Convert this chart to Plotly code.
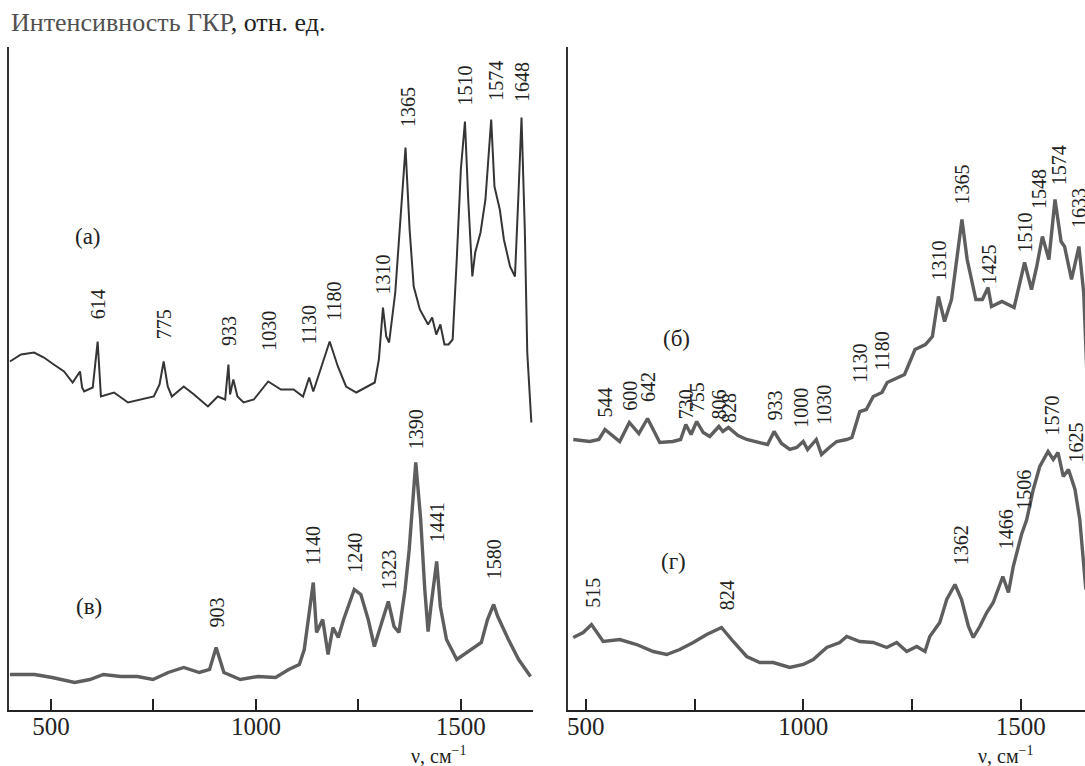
import plotly.graph_objects as go

# ---------------- data ----------------
# spectrum (a)  – wavenumber, cm^-1 / relative intensity (with stacking offset)
a_wn = [400, 427, 459, 483, 507, 532, 553, 571, 576, 581, 602, 614, 622, 654, 688, 720, 751, 765, 775, 785,
        795, 824, 849, 883, 907, 925, 933, 937, 945, 955, 970, 995, 1030, 1061, 1092, 1115, 1130, 1140, 1160,
        1180, 1200, 1220, 1245, 1270, 1290, 1300, 1310, 1318, 1325, 1340, 1355, 1365, 1375, 1385, 1400, 1420,
        1430, 1440, 1450, 1460, 1470, 1480, 1490, 1500, 1510, 1518, 1528, 1535, 1548, 1560, 1574, 1582, 1595,
        1605, 1620, 1632, 1640, 1648, 1656, 1662, 1672]
a_int = [348, 355, 357, 352, 345, 338, 327, 338, 322, 318, 322, 368, 313, 317, 307, 310, 313, 325, 348, 323,
         313, 323, 315, 303, 313, 310, 345, 315, 330, 313, 307, 310, 328, 320, 320, 313, 332, 318, 343,
         368, 343, 323, 317, 323, 327, 350, 402, 373, 367, 417, 510, 562, 480, 423, 400, 385,
         392, 375, 385, 365, 365, 370, 450, 540, 588, 510, 433, 457, 477, 510, 590, 523, 500,
         470, 443, 433, 510, 592, 480, 357, 287]

# spectrum (в)
v_wn = [400, 460, 503, 558, 595, 628, 671, 711, 749, 786, 824, 862, 887, 903, 922, 962, 1005, 1048, 1080,
        1106, 1118, 1131, 1140, 1148, 1163, 1176, 1188, 1201, 1214, 1240, 1256, 1274, 1289, 1307, 1323,
        1337, 1349, 1364, 1374, 1390, 1402, 1412, 1420, 1427, 1441, 1450, 1465, 1490, 1515, 1550, 1565,
        1580, 1590, 1616, 1641, 1670]
v_int = [35, 35, 32, 27, 30, 35, 33, 33, 30, 37, 42, 37, 40, 62, 37, 30, 33, 32, 40,
         45, 60, 103, 127, 77, 90, 55, 82, 72, 90, 120, 115, 90, 63, 87, 108,
         83, 77, 120, 160, 247, 190, 120, 78, 103, 148, 103, 70, 50, 57, 67, 90,
         105, 93, 70, 50, 33]

# spectrum (б)
b_wn = [471, 509, 530, 544, 578, 600, 622, 642, 670, 700, 718, 730, 742, 755, 770, 785, 806, 815, 828, 850,
        870, 900, 918, 933, 950, 969, 985, 1000, 1010, 1030, 1042, 1060, 1077, 1100, 1112, 1130, 1145, 1161,
        1181, 1193, 1209, 1233, 1257, 1281, 1297, 1311, 1325, 1341, 1353, 1365, 1377, 1397, 1412, 1425,
        1433, 1457, 1485, 1493, 1509, 1525, 1537, 1550, 1565, 1579, 1593, 1601, 1617, 1634, 1645, 1652]
b_int = [270, 268, 270, 280, 268, 287, 276, 291, 267, 268, 270, 285, 275, 288, 277, 273, 283, 278, 282, 274,
         270, 267, 265, 278, 266, 260, 262, 268, 260, 270, 255, 262, 268, 270, 272, 298, 300, 313,
         317, 327, 330, 335, 360, 365, 373, 413, 388, 410, 450, 490, 450, 410, 410, 422,
         403, 408, 402, 417, 447, 420, 443, 473, 450, 510, 468, 463, 430, 463, 417, 340]

# spectrum (г)
g_wn = [471, 494, 513, 540, 578, 617, 655, 686, 716, 747, 778, 812, 839, 870, 900, 931, 969, 1000, 1023,
        1054, 1084, 1100, 1130, 1161, 1192, 1215, 1238, 1261, 1280, 1291, 1314, 1330, 1349, 1364, 1380,
        1391, 1406, 1422, 1437, 1459, 1472, 1483, 1502, 1514, 1529, 1544, 1563, 1575, 1586, 1598, 1610,
        1625, 1636, 1650]
g_int = [72, 77, 85, 68, 70, 65, 58, 55, 60, 67, 75, 82, 68, 53, 47, 47, 42, 45, 50,
         62, 67, 73, 68, 67, 62, 67, 58, 63, 58, 73, 87, 110, 125, 110, 83,
         72, 83, 97, 107, 133, 117, 143, 175, 190, 220, 243, 258, 250, 257, 233, 240,
         220, 190, 120]

# peak labels
a_peaks = [614, 775, 933, 1030, 1130, 1180, 1310, 1365, 1510, 1574, 1648]
v_peaks = [903, 1140, 1240, 1323, 1390, 1441, 1580]
b_peaks = [544, 600, 642, 730, 755, 806, 828, 933, 1000, 1030, 1130, 1180, 1310, 1365, 1425, 1510, 1548,
           1574, 1633]
g_peaks = [515, 824, 1362, 1466, 1506, 1570, 1625]

tick_vals = [500, 750, 1000, 1250, 1500]
tick_text = ["500", "", "1000", "", "1500"]

# ---------------- layout helpers (positions) ----------------
a_lab_y = [388, 368, 362, 357, 363, 387, 413, 580, 602, 607, 605]
v_lab_y = [80, 142, 135, 118, 258, 165, 128]
b_lab_y = [290, 297, 305, 288, 295, 288, 285, 287, 280, 283, 325, 337, 427, 503, 423, 455, 498, 522, 480]
g_lab_y = [100, 97, 142, 158, 198, 272, 245]
# small pixel nudges where the printed labels sit beside their peaks
b_lab_dx = {1000: -3, 1030: 7, 1548: -3, 1574: 6}
a_lab_dx = {1180: 4, 1574: 4, 1365: 2}

SERIF = "Liberation Serif"
INK = "#222222"
W, H = 1085, 766

fig = go.Figure()
fig.add_trace(go.Scatter(x=a_wn, y=a_int, mode="lines", line=dict(color="#353535", width=2),
                         xaxis="x", yaxis="y", hoverinfo="skip"))
fig.add_trace(go.Scatter(x=v_wn, y=v_int, mode="lines", line=dict(color="#5e5e5e", width=3.4),
                         xaxis="x", yaxis="y", hoverinfo="skip"))
fig.add_trace(go.Scatter(x=b_wn, y=b_int, mode="lines", line=dict(color="#5e5e5e", width=3.4),
                         xaxis="x2", yaxis="y2", hoverinfo="skip"))
fig.add_trace(go.Scatter(x=g_wn, y=g_int, mode="lines", line=dict(color="#5e5e5e", width=3.4),
                         xaxis="x2", yaxis="y2", hoverinfo="skip"))

ydom = [1 - 709.5 / H, 1 - 47 / H]
xcommon = dict(showgrid=False, zeroline=False, showline=True, linecolor=INK, linewidth=1.5,
               ticks="inside", ticklen=11, tickwidth=1.5, tickcolor=INK,
               tickvals=tick_vals, ticktext=tick_text, ticklabelstandoff=-6,
               tickfont=dict(family=SERIF, size=25, color=INK))
ycommon = dict(showgrid=False, zeroline=False, showline=True, linecolor="#333333", linewidth=1.5,
               showticklabels=False, ticks="", range=[0, 662.5], domain=ydom)

fig.update_layout(
    width=W, height=H, margin=dict(l=0, r=0, t=0, b=0),
    paper_bgcolor="white", plot_bgcolor="white", showlegend=False,
    font=dict(family=SERIF, color=INK),
    xaxis=dict(domain=[8.7 / W, 533 / W], range=[397, 1676], anchor="y", **xcommon),
    yaxis=dict(anchor="x", **ycommon),
    xaxis2=dict(domain=[568 / W, 1.0], range=[459, 1648], anchor="y2", **xcommon),
    yaxis2=dict(anchor="x2", **ycommon),
)

ann = []
def peak_labels(peaks, ys, xr, yr, dx):
    for p, yy in zip(peaks, ys):
        ann.append(dict(x=p, y=yy, xref=xr, yref=yr, text=str(p), textangle=-90, showarrow=False,
                        xanchor="center", yanchor="bottom", xshift=dx.get(p, 0),
                        font=dict(family=SERIF, size=20, color=INK)))

peak_labels(a_peaks, a_lab_y, "x", "y", a_lab_dx)
peak_labels(v_peaks, v_lab_y, "x", "y", {})
peak_labels(b_peaks, b_lab_y, "x2", "y2", b_lab_dx)
peak_labels(g_peaks, g_lab_y, "x2", "y2", {})

for txt, xx, yy, xr, yr in [("(a)", 590, 473, "x", "y"), ("(в)", 593, 103, "x", "y"),
                            ("(б)", 709, 371, "x2", "y2"), ("(г)", 702, 148, "x2", "y2")]:
    ann.append(dict(x=xx, y=yy, xref=xr, yref=yr, text=txt, showarrow=False,
                    xanchor="center", yanchor="middle", font=dict(family=SERIF, size=23, color=INK)))

for xx, xr in [(1445, "x"), (1466, "x2")]:
    ann.append(dict(x=xx, y=1 - 755 / H, xref=xr, yref="paper", text="ν, см<sup>−1</sup>",
                    showarrow=False, xanchor="center", yanchor="middle",
                    font=dict(family=SERIF, size=20, color=INK)))

ann.append(dict(x=8.7 / W, y=1 - 23 / H, xref="paper", yref="paper",
                text="<span style='color:#505050'>Интенсивность ГКР</span>, отн. ед.",
                showarrow=False, xanchor="left", yanchor="middle",
                font=dict(family=SERIF, size=26, color=INK)))

fig.update_layout(annotations=ann)
fig.write_html("out.html")
